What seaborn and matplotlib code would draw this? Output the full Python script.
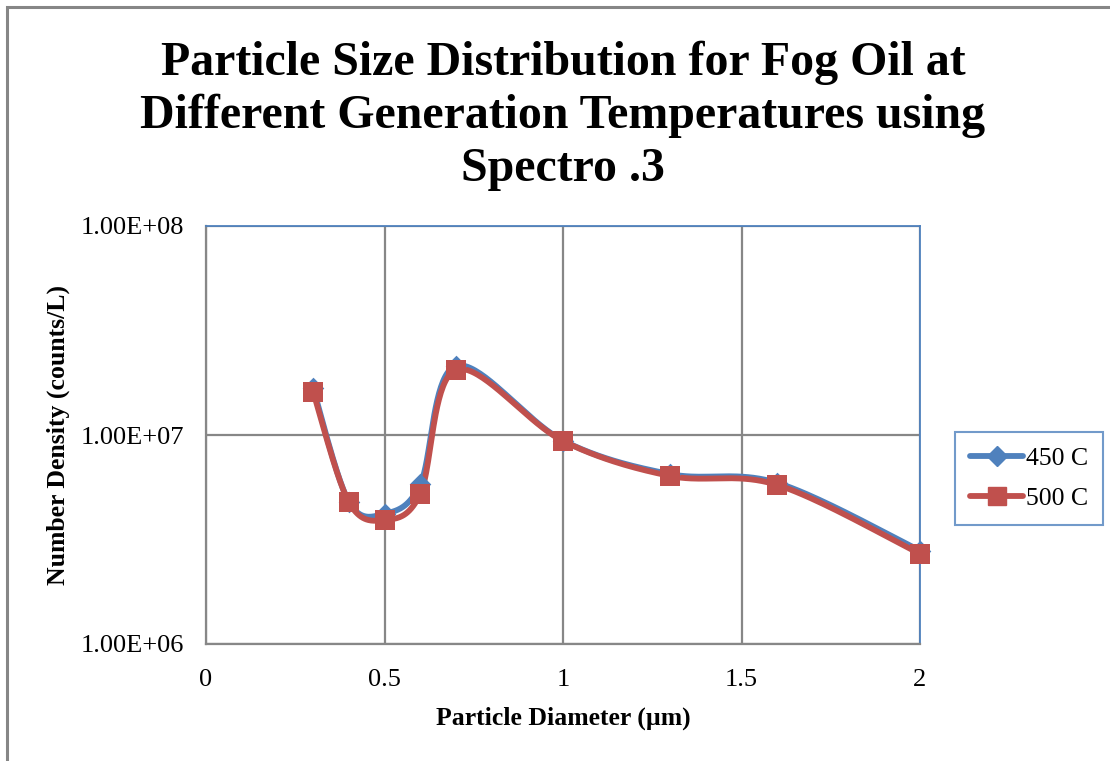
import numpy as np
import pandas as pd
import seaborn as sns
import matplotlib
matplotlib.use("Agg")
import matplotlib.pyplot as plt
from matplotlib.lines import Line2D
from matplotlib.patches import Rectangle
from matplotlib.ticker import FixedLocator, FuncFormatter

# Measured particle number densities (counts/L) per particle diameter (um)
diameter = [0.3, 0.4, 0.5, 0.6, 0.7, 1.0, 1.3, 1.6, 2.0]
density_450 = [1.68e7, 4.80e6, 4.20e6, 5.80e6, 2.14e7, 9.40e6, 6.50e6, 5.90e6, 2.80e6]
density_500 = [1.61e7, 4.78e6, 3.92e6, 5.22e6, 2.05e7, 9.36e6, 6.37e6, 5.77e6, 2.70e6]
series_names = ["450 C", "500 C"]

title = "Particle Size Distribution for Fog Oil at\nDifferent Generation Temperatures using\nSpectro .3"
x_label = "Particle Diameter (\u00b5m)"
y_label = "Number Density (counts/L)"
x_ticks = [0, 0.5, 1, 1.5, 2]
y_ticks = [1e6, 1e7, 1e8]

BLUE = "#4F81BD"
RED = "#C0504D"
GRID = "#878787"
SERIF = "Liberation Serif"


def smooth_curve(xs, ys, n=40):
    """Bezier smoothing through the points (Catmull-Rom style), done in log space."""
    px = np.asarray(xs, float)
    py = np.log10(np.asarray(ys, float))
    pts = np.column_stack([px, py])
    out = []
    m = len(pts)
    for i in range(m - 1):
        p0 = pts[i - 1] if i > 0 else pts[i]
        p1 = pts[i]
        p2 = pts[i + 1]
        p3 = pts[i + 2] if i + 2 < m else pts[i + 1]
        c1 = p1 + (p2 - p0) / 6.0
        c2 = p2 - (p3 - p1) / 6.0
        t = np.linspace(0, 1, n, endpoint=(i == m - 2))[:, None]
        seg = ((1 - t) ** 3) * p1 + 3 * ((1 - t) ** 2) * t * c1 + 3 * (1 - t) * t ** 2 * c2 + t ** 3 * p2
        out.append(seg)
    curve = np.vstack(out)
    return curve[:, 0], 10 ** curve[:, 1]


sns.set_theme(style="white")
plt.rcParams["font.family"] = [SERIF, "DejaVu Sans"]
plt.rcParams["text.color"] = "black"
plt.rcParams["axes.labelcolor"] = "black"

fig = plt.figure(figsize=(11.10, 7.61), dpi=100)
ax = fig.add_axes([206 / 1110, 1 - 644 / 761, (920 - 206) / 1110, (644 - 226) / 761])

# Outer chart frame
fig.patches.append(Rectangle((7 / 1110, -0.05), 1.2, 1 - 7 / 761 + 0.05,
                             transform=fig.transFigure, fill=False,
                             edgecolor="#868686", linewidth=2.2, zorder=0))

series = [(density_450, BLUE, "D", 11), (density_500, RED, "s", 15)]
for (vals, color, marker, msize), name in zip(series, series_names):
    cx, cy = smooth_curve(diameter, vals)
    curve_df = pd.DataFrame({"x": cx, "y": cy})
    sns.lineplot(data=curve_df, x="x", y="y", ax=ax, color=color, linewidth=4.2,
                 sort=False, estimator=None, legend=False, zorder=3)
    pts_df = pd.DataFrame({"x": diameter, "y": vals})
    sns.scatterplot(data=pts_df, x="x", y="y", ax=ax, color=color, marker=marker,
                    s=msize ** 2, edgecolor=color, linewidth=0, legend=False,
                    zorder=4, clip_on=False)

ax.set_yscale("log")
ax.set_xlim(0, 2)
ax.set_ylim(1e6, 1e8)
ax.xaxis.set_major_locator(FixedLocator(x_ticks))
ax.yaxis.set_major_locator(FixedLocator(y_ticks))
ax.yaxis.set_minor_locator(FixedLocator([]))
ax.xaxis.set_major_formatter(FuncFormatter(lambda v, p: f"{v:g}"))
ax.yaxis.set_major_formatter(FuncFormatter(lambda v, p: f"{v:.2E}"))
ax.tick_params(axis="both", length=0, labelsize=19, colors="black")
ax.tick_params(axis="x", pad=18)
ax.tick_params(axis="y", pad=16)
for lab in ax.get_xticklabels() + ax.get_yticklabels():
    lab.set_fontfamily(SERIF)

ax.grid(True, which="major", color=GRID, linewidth=1.6)
ax.set_axisbelow(True)
for side in ["top", "right"]:
    ax.spines[side].set_color(BLUE)
    ax.spines[side].set_linewidth(1.3)
for side in ["left", "bottom"]:
    ax.spines[side].set_color(GRID)
    ax.spines[side].set_linewidth(1.6)

ax.set_xlabel(x_label, fontsize=18.5, fontweight="bold", family=SERIF)
ax.set_ylabel(y_label, fontsize=18.5, fontweight="bold", family=SERIF)
ax.xaxis.set_label_coords(0.5, -74 / 418)
ax.xaxis.label.set_va("center")
ax.yaxis.set_label_coords(-148 / 714, 0.5)
ax.yaxis.label.set_va("center")

fig.text(563 / 1110, 1 - 116 / 761, title, ha="center", va="center",
         fontsize=34.5, fontweight="bold", family=SERIF, linespacing=1.26)

handles = [Line2D([], [], color=BLUE, marker="D", markersize=10, linewidth=4.2),
           Line2D([], [], color=RED, marker="s", markersize=13, linewidth=4.2)]
leg = fig.legend(handles, series_names, loc="center left",
                 bbox_to_anchor=(955 / 1110, 1 - 478.5 / 761), frameon=True,
                 fancybox=False, edgecolor=BLUE, handlelength=2.05,
                 handletextpad=0.1, borderpad=0.6, borderaxespad=0,
                 labelspacing=0.65, prop={"family": SERIF, "size": 18.5})
leg.get_frame().set_linewidth(1.5)

fig.savefig("out.png", dpi=100, facecolor="white")
